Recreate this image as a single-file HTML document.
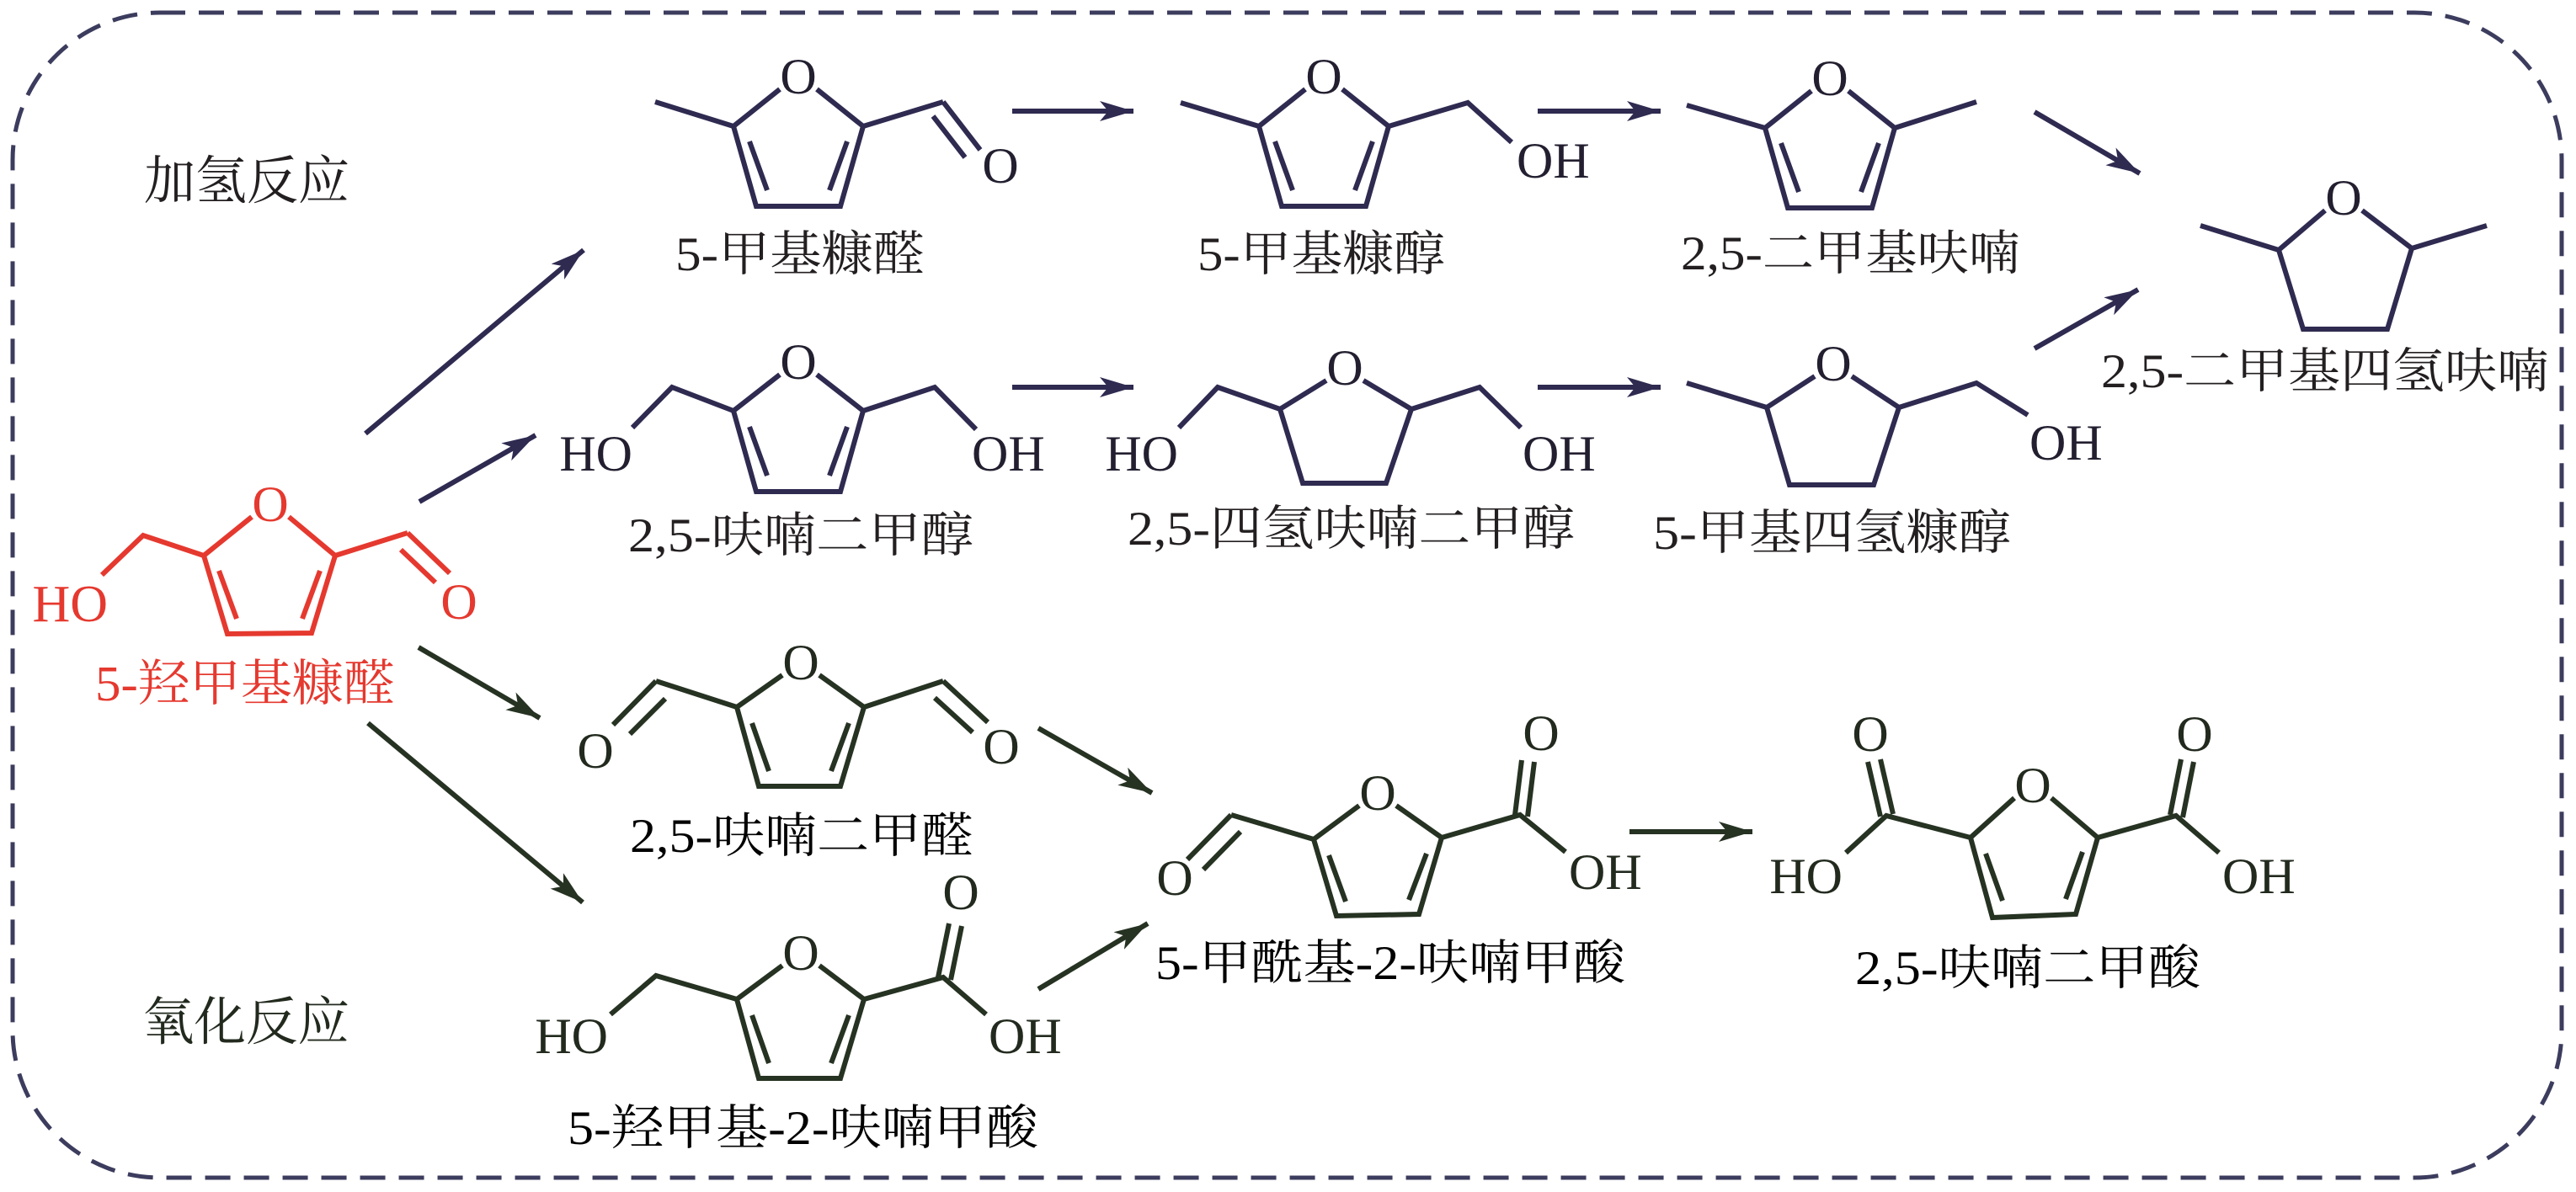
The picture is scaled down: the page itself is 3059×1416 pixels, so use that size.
<!DOCTYPE html>
<html><head><meta charset="utf-8"><style>
html,body{margin:0;padding:0;background:#fff;width:3059px;height:1416px;overflow:hidden}
svg{display:block}
text{font-family:"Liberation Serif","Noto Serif CJK SC",serif}
.h line,.h path,.h polyline{stroke:#2e2a50}
.o line,.o path,.o polyline{stroke:#263222}
.r line,.r path,.r polyline{stroke:#e5392f}
line,polyline,path{fill:none;stroke-width:6;stroke-linecap:butt;stroke-linejoin:miter}
.h text{fill:#231f30}.o text{fill:#222a1e}.r text{fill:#e5392f}
.at{font-size:60px;text-anchor:middle}
.lab{font-size:57px}
</style></head><body>
<svg width="3059" height="1416" viewBox="0 0 3059 1416" xmlns="http://www.w3.org/2000/svg">
<defs>
<marker id="ah" markerUnits="userSpaceOnUse" markerWidth="50" markerHeight="30" refX="40" refY="12" orient="auto" viewBox="0 0 50 30">
<path d="M40,12 L0,0 L10,12 L0,24 Z" style="fill:#2e2a50;stroke:none"/></marker>
<marker id="ao" markerUnits="userSpaceOnUse" markerWidth="50" markerHeight="30" refX="40" refY="12" orient="auto" viewBox="0 0 50 30">
<path d="M40,12 L0,0 L10,12 L0,24 Z" style="fill:#263222;stroke:none"/></marker>
</defs>
<rect x="15" y="15" width="3027" height="1384" rx="175" ry="175" fill="none" stroke="#3c3c5e" stroke-width="5" stroke-dasharray="30 16"/>

<text x="171" y="236" font-size="62" textLength="244" lengthAdjust="spacingAndGlyphs" fill="#231f20">加氢反应</text>
<text x="169" y="1235" font-size="62" textLength="246" lengthAdjust="spacingAndGlyphs" fill="#222a1e">氧化反应</text>

<g class="h">
<line x1="434" y1="515" x2="693" y2="297" marker-end="url(#ah)" stroke-width="5"/>
<line x1="498" y1="596" x2="636" y2="517" marker-end="url(#ah)" stroke-width="5"/>
<line x1="1202" y1="132" x2="1346" y2="132" marker-end="url(#ah)" stroke-width="6"/>
<line x1="1826" y1="132" x2="1972" y2="132" marker-end="url(#ah)" stroke-width="6"/>
<line x1="2416" y1="133" x2="2541" y2="206" marker-end="url(#ah)" stroke-width="5"/>
<line x1="1202" y1="460" x2="1346" y2="460" marker-end="url(#ah)" stroke-width="6"/>
<line x1="1826" y1="460" x2="1972" y2="460" marker-end="url(#ah)" stroke-width="6"/>
<line x1="2416" y1="414" x2="2539" y2="344" marker-end="url(#ah)" stroke-width="5"/>
</g>
<g class="o">
<line x1="497" y1="769" x2="641" y2="853" marker-end="url(#ao)" stroke-width="5"/>
<line x1="437" y1="859" x2="692" y2="1072" marker-end="url(#ao)" stroke-width="5"/>
<line x1="1233" y1="865" x2="1368" y2="942" marker-end="url(#ao)" stroke-width="5"/>
<line x1="1233" y1="1175" x2="1363" y2="1097" marker-end="url(#ao)" stroke-width="5"/>
<line x1="1935" y1="988" x2="2081" y2="988" marker-end="url(#ao)" stroke-width="6"/>
</g>

<g class="h" transform="translate(948,90)">
<text class="at" x="0" y="21">O</text>
<path d="M-22,16 L-77,60 L-50,155 L50,155 L77,60 L22,16"/>
<line x1="-58" y1="78" x2="-37" y2="136"/><line x1="58" y1="78" x2="37" y2="136"/>
<line x1="-77" y1="60" x2="-170" y2="31"/>
<line x1="77" y1="60" x2="172" y2="31"/>
<line x1="172" y1="31" x2="216" y2="88"/><line x1="160" y1="48" x2="198" y2="97"/>
<text class="at" x="240" y="127">O</text>
</g>
<text class="lab" x="802" y="321" textLength="296" lengthAdjust="spacingAndGlyphs" fill="#231f20">5-甲基糠醛</text>

<g class="h" transform="translate(1572,90)">
<text class="at" x="0" y="21">O</text>
<path d="M-22,16 L-77,60 L-50,155 L50,155 L77,60 L22,16"/>
<line x1="-58" y1="78" x2="-37" y2="136"/><line x1="58" y1="78" x2="37" y2="136"/>
<line x1="-77" y1="60" x2="-170" y2="32"/>
<path d="M77,60 L171,32 L223,79"/>
<text x="229" y="121" font-size="60">OH</text>
</g>
<text class="lab" x="1422" y="321" textLength="294" lengthAdjust="spacingAndGlyphs" fill="#231f20">5-甲基糠醇</text>

<g class="h" transform="translate(2173,92)">
<text class="at" x="0" y="21">O</text>
<path d="M-22,16 L-77,60 L-50,155 L50,155 L77,60 L22,16"/>
<line x1="-58" y1="78" x2="-37" y2="136"/><line x1="58" y1="78" x2="37" y2="136"/>
<line x1="-77" y1="60" x2="-170" y2="33"/>
<line x1="77" y1="60" x2="174" y2="29"/>
</g>
<text class="lab" x="1996" y="320" textLength="403" lengthAdjust="spacingAndGlyphs" fill="#231f20">2,5-二甲基呋喃</text>

<g class="h" transform="translate(2783,234)">
<text class="at" x="0" y="21">O</text>
<path d="M-22,16 L-77,63 L-48,157 L52,157 L81,61 L22,16"/>
<line x1="-77" y1="63" x2="-170" y2="34"/>
<line x1="81" y1="61" x2="170" y2="34"/>
</g>
<text class="lab" x="2495" y="460" textLength="532" lengthAdjust="spacingAndGlyphs" fill="#231f20">2,5-二甲基四氢呋喃</text>

<g class="h" transform="translate(948,429)">
<text class="at" x="0" y="21">O</text>
<path d="M-22,16 L-77,59 L-50,155 L50,155 L77,59 L22,16"/>
<line x1="-58" y1="78" x2="-37" y2="136"/><line x1="58" y1="78" x2="37" y2="136"/>
<path d="M-77,59 L-150,31 L-197,79"/>
<path d="M77,59 L162,31 L211,81"/>
<text x="-197" y="130" font-size="60" text-anchor="end">HO</text>
<text x="206" y="130" font-size="60">OH</text>
</g>
<text class="lab" x="746" y="655" textLength="410" lengthAdjust="spacingAndGlyphs" fill="#231f20">2,5-呋喃二甲醇</text>

<g class="h" transform="translate(1597,436)">
<text class="at" x="0" y="21">O</text>
<path d="M-22,16 L-77,50 L-50,138 L49,138 L79,50 L22,16"/>
<path d="M-77,50 L-151,24 L-197,72"/>
<path d="M79,50 L160,24 L209,72"/>
<text x="-198" y="123" font-size="60" text-anchor="end">HO</text>
<text x="211" y="123" font-size="60">OH</text>
</g>
<text class="lab" x="1339" y="647" textLength="531" lengthAdjust="spacingAndGlyphs" fill="#231f20">2,5-四氢呋喃二甲醇</text>

<g class="h" transform="translate(2177,431)">
<text class="at" x="0" y="21">O</text>
<path d="M-22,16 L-79,53 L-52,145 L48,145 L78,53 L22,16"/>
<line x1="-79" y1="53" x2="-174" y2="24"/>
<path d="M78,53 L170,24 L231,62"/>
<text x="233" y="115" font-size="60">OH</text>
</g>
<text class="lab" x="1963" y="652" textLength="425" lengthAdjust="spacingAndGlyphs" fill="#231f20">5-甲基四氢糠醇</text>

<g class="r" transform="translate(321,598)">
<text class="at" x="0" y="21" font-size="62">O</text>
<path d="M-22,16 L-79,62 L-51,155 L49,154 L77,62 L22,16"/>
<line x1="-61" y1="80" x2="-40" y2="137"/><line x1="59" y1="80" x2="38" y2="137"/>
<path d="M-79,62 L-151,38 L-200,85"/>
<line x1="77" y1="62" x2="163" y2="35"/>
<line x1="163" y1="35" x2="213" y2="83"/><line x1="155" y1="55" x2="196" y2="94"/>
<text x="-193" y="140" font-size="62" text-anchor="end">HO</text>
<text class="at" x="224" y="137" font-size="62">O</text>
</g>
<text x="113" y="832" font-size="59" textLength="356" lengthAdjust="spacingAndGlyphs" fill="#e5392f">5-羟甲基糠醛</text>

<g class="o" transform="translate(951,786)">
<text class="at" x="0" y="21">O</text>
<path d="M-22,16 L-76,54 L-50,148 L47,148 L75,54 L22,16"/>
<line x1="-58" y1="73" x2="-38" y2="130"/><line x1="57" y1="73" x2="36" y2="130"/>
<line x1="-76" y1="54" x2="-172" y2="23"/>
<line x1="-172" y1="23" x2="-223" y2="75"/><line x1="-161" y1="44" x2="-203" y2="86"/>
<line x1="75" y1="54" x2="169" y2="23"/>
<line x1="169" y1="23" x2="222" y2="72"/><line x1="159" y1="43" x2="204" y2="84"/>
<text class="at" x="-244" y="126">O</text>
<text class="at" x="238" y="121">O</text>
</g>
<text class="lab" x="748" y="1012" textLength="408" lengthAdjust="spacingAndGlyphs">2,5-呋喃二甲醛</text>

<g class="o" transform="translate(951,1131)">
<text class="at" x="0" y="21">O</text>
<path d="M-22,16 L-76,56 L-50,150 L47,150 L75,56 L22,16"/>
<line x1="-58" y1="75" x2="-38" y2="132"/><line x1="57" y1="75" x2="36" y2="132"/>
<path d="M-76,56 L-172,28 L-226,74"/>
<path d="M75,56 L169,30 L220,74"/>
<line x1="163" y1="30" x2="176" y2="-34"/><line x1="178" y1="33" x2="191" y2="-31"/>
<text class="at" x="190" y="-51">O</text>
<text x="-229" y="120" font-size="60" text-anchor="end">HO</text>
<text x="223" y="120" font-size="60">OH</text>
</g>
<text class="lab" x="674" y="1359" textLength="559" lengthAdjust="spacingAndGlyphs">5-羟甲基-2-呋喃甲酸</text>

<g class="o" transform="translate(1636,941)">
<text class="at" x="0" y="21">O</text>
<path d="M-22,16 L-76,56 L-49,147 L49,145 L76,54 L22,16"/>
<line x1="-58" y1="75" x2="-38" y2="130"/><line x1="58" y1="73" x2="37" y2="128"/>
<line x1="-76" y1="56" x2="-174" y2="27"/>
<line x1="-174" y1="27" x2="-226" y2="80"/><line x1="-163" y1="47" x2="-207" y2="92"/>
<path d="M76,54 L169,27 L223,71"/>
<line x1="163" y1="27" x2="171" y2="-38"/><line x1="178" y1="29" x2="186" y2="-36"/>
<text class="at" x="-241" y="122">O</text>
<text class="at" x="194" y="-50">O</text>
<text x="227" y="115" font-size="60">OH</text>
</g>
<text class="lab" x="1372" y="1163" textLength="558" lengthAdjust="spacingAndGlyphs">5-甲酰基-2-呋喃甲酸</text>

<g class="o" transform="translate(2414,932)">
<text class="at" x="0" y="21">O</text>
<path d="M-22,16 L-74,63 L-48,158 L51,154 L77,63 L22,16"/>
<line x1="-56" y1="82" x2="-36" y2="138"/><line x1="59" y1="80" x2="39" y2="136"/>
<path d="M-74,63 L-174,37 L-222,81"/>
<path d="M77,63 L170,37 L221,81"/>
<line x1="-166" y1="35" x2="-181" y2="-30"/><line x1="-181" y1="38" x2="-196" y2="-27"/>
<line x1="163" y1="36" x2="176" y2="-30"/><line x1="178" y1="39" x2="191" y2="-27"/>
<text class="at" x="-193" y="-40">O</text>
<text class="at" x="192" y="-40">O</text>
<text x="-226" y="129" font-size="60" text-anchor="end">HO</text>
<text x="225" y="129" font-size="60">OH</text>
</g>
<text class="lab" x="2203" y="1169" textLength="410" lengthAdjust="spacingAndGlyphs">2,5-呋喃二甲酸</text>
</svg>
</body></html>
